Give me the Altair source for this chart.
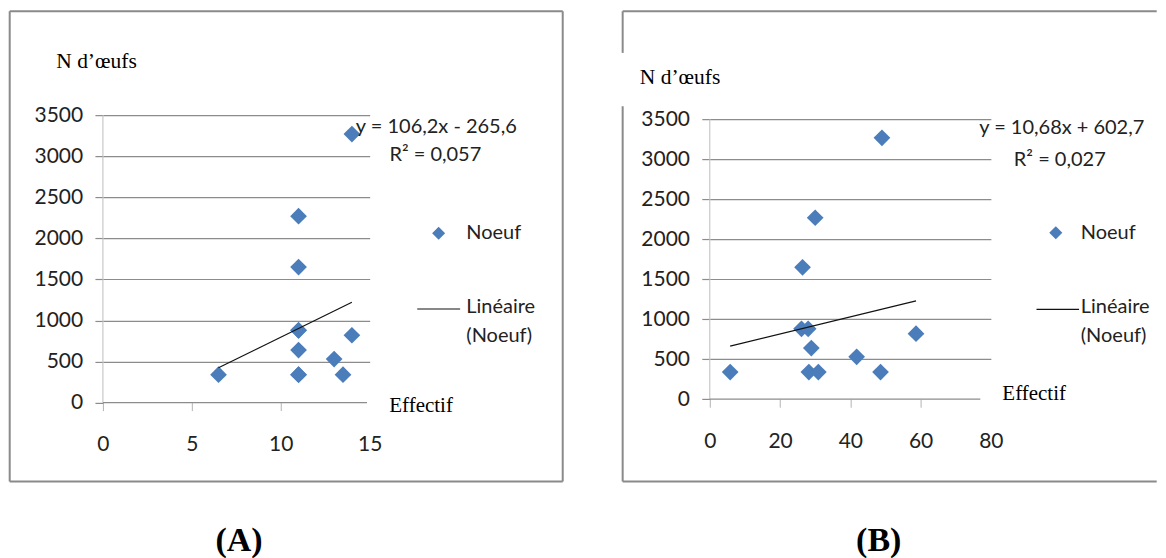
import altair as alt
import pandas as pd

# ---------------- data ----------------
# Panel A : N d'oeufs vs Effectif (0-15)
a_effectif = [6.5, 11, 11, 11, 11, 11, 11, 13, 13.5, 14, 14, 11]
a_noeuf = [340, 2270, 1650, 880, 880, 640, 340, 530, 340, 820, 3270, 340]
a_trend_x = [6.5, 14]
a_trend_y = [425, 1221]
a_equation = "y = 106,2x - 265,6"
a_r2 = "R² = 0,057"

# Panel B : N d'oeufs vs Effectif (0-80)
b_effectif = [5.8, 26.1, 26.4, 28, 28.2, 28.9, 30, 30.9, 41.8, 48.6, 49, 58.7]
b_noeuf = [340, 880, 1650, 880, 340, 640, 2270, 340, 530, 340, 3270, 820]
b_trend_x = [5.8, 58.7]
b_trend_y = [665, 1230]
b_equation = "y = 10,68x + 602,7"
b_r2 = "R² = 0,027"

y_ticks = [0, 500, 1000, 1500, 2000, 2500, 3000, 3500]
a_x_ticks = [0, 5, 10, 15]
b_x_ticks = [0, 20, 40, 60, 80]

y_title = "N d’œufs"
x_title = "Effectif"
legend_point = "Noeuf"
legend_line_1 = "Linéaire"
legend_line_2 = "(Noeuf)"

SANS = "Lato"
SERIF = "Liberation Serif"
BLUE = "#4a7dba"
GRID = "#8c8c8c"
BORDER = "#8a8a8a"
TXT = "#222222"

one = pd.DataFrame({"k": [0]})


def text(t, x, y, size, font, align="left", baseline="middle", weight="normal", color=TXT):
    return alt.Chart(one).mark_text(
        text=t, font=font, fontSize=size, align=align, baseline=baseline,
        fontWeight=weight, color=color
    ).encode(x=alt.value(x), y=alt.value(y))


def hline(x1, x2, y, color=BORDER, width=2):
    return alt.Chart(one).mark_rule(color=color, strokeWidth=width).encode(
        x=alt.value(x1), x2=alt.value(x2), y=alt.value(y))


def vline(x, y1, y2, color=BORDER, width=2):
    return alt.Chart(one).mark_rule(color=color, strokeWidth=width).encode(
        x=alt.value(x), y=alt.value(y1), y2=alt.value(y2))


def panel(xs, ys, tx, ty, xticks, xmax, ymax, w, h, xaxis_end, deco):
    xscale = alt.Scale(domain=[0, xmax], nice=False, zero=False)
    yscale = alt.Scale(domain=[0, ymax], nice=False, zero=False)
    xaxis = alt.Axis(
        values=xticks, grid=False, domain=False, tickSize=8, tickWidth=1,
        tickColor={"condition": {"test": f"datum.value == {xticks[-1]}", "value": "transparent"},
                   "value": "#b3b3b3"},
        labelFont=SANS, labelFontSize=21, labelColor=TXT, labelPadding=23,
        labelFlush=False, labelOverlap=False, title=None, format="d")
    yaxis = alt.Axis(
        values=y_ticks, grid=True,
        gridColor={"condition": {"test": "datum.value == 0", "value": "transparent"},
                   "value": GRID},
        gridWidth=1.2, domain=False, tickSize=8, tickColor=GRID, tickWidth=1.2,
        labelFont=SANS, labelFontSize=21, labelColor=TXT, labelPadding=12.3,
        labelOverlap=False, title=None, format="d")

    pts = pd.DataFrame({"x": xs, "y": ys})
    tr = pd.DataFrame({"x": tx, "y": ty})
    yline = pd.DataFrame({"x": [0], "y": [0], "y2": [y_ticks[-1]]})
    xline = pd.DataFrame({"x": [0], "x2": [xaxis_end], "y": [0]})

    X = lambda: alt.X("x:Q", scale=xscale, axis=xaxis)
    Y = lambda: alt.Y("y:Q", scale=yscale, axis=yaxis)

    y_axis_line = alt.Chart(yline).mark_rule(color="#bdbdbd", strokeWidth=1).encode(
        x=X(), y=Y(), y2="y2:Q")
    x_axis_line = alt.Chart(xline).mark_rule(color=GRID, strokeWidth=1.2).encode(
        x=X(), x2="x2:Q", y=Y())
    points = alt.Chart(pts).mark_point(
        shape="diamond", filled=True, size=280, color=BLUE, opacity=1).encode(x=X(), y=Y())
    trend = alt.Chart(tr).mark_line(color="#111111", strokeWidth=1.2).encode(x=X(), y=Y())

    return alt.layer(y_axis_line, x_axis_line, points, trend, *deco).properties(
        width=w, height=h)


# ---- panel A decorations (pixel offsets from its plot area) ----
deco_a = [
    vline(-93.3, -104, 366.7), vline(460.2, -104, 366.7),
    hline(-93.3, 460.2, -104), hline(-93.3, 460.2, 366.7),
    text(y_title, -46.7, -47.3, 21.5, SERIF, baseline="alphabetic", color="#000"),
    text(x_title, 286.6, 297, 21, SERIF, baseline="alphabetic", color="#000"),
    text(a_equation, 333.7, 11.7, 20, SANS, align="center"),
    text(a_r2, 332.7, 40, 20, SANS, align="center"),
    alt.Chart(one).mark_point(shape="diamond", filled=True, size=170, color=BLUE, opacity=1).encode(
        x=alt.value(336), y=alt.value(118.3)),
    text(legend_point, 363.7, 118.3, 20, SANS),
    hline(314.6, 357.5, 194, color="#111111", width=1.2),
    text(legend_line_1, 363.7, 192.3, 20, SANS),
    text(legend_line_2, 363.7, 221, 20, SANS),
    text("(A)", 136.2, 436, 34, SERIF, align="center", baseline="alphabetic", weight="bold", color="#000"),
]

# ---- panel B decorations ----
deco_b = [
    vline(-87.2, -104, -62.3), vline(-87.2, -9, 366.7),
    hline(-87.2, 447.3, -104), hline(-87.2, 447.3, 366.7),
    text(y_title, -70, -31, 21.5, SERIF, baseline="alphabetic", color="#000"),
    text(x_title, 292.8, 285, 21, SERIF, baseline="alphabetic", color="#000"),
    text(b_equation, 352.3, 13.3, 20, SANS, align="center"),
    text(b_r2, 350.3, 45, 20, SANS, align="center"),
    alt.Chart(one).mark_point(shape="diamond", filled=True, size=170, color=BLUE, opacity=1).encode(
        x=alt.value(346.3), y=alt.value(117.7)),
    text(legend_point, 371.3, 117.7, 20, SANS),
    hline(327, 369.6, 194.3, color="#111111", width=1.2),
    text(legend_line_1, 371.3, 192.3, 20, SANS),
    text(legend_line_2, 371.3, 221, 20, SANS),
    text("(B)", 169.1, 436, 34, SERIF, align="center", baseline="alphabetic", weight="bold", color="#000"),
]

pA = panel(a_effectif, a_noeuf, a_trend_x, a_trend_y, a_x_ticks, 15, 3500,
           267, 287.7, 14.85, deco_a)
pB = panel(b_effectif, b_noeuf, b_trend_x, b_trend_y, b_x_ticks, 80, 3553.75,
           281.3, 284.3, 77, deco_b)

chart = alt.hconcat(pA, pB, spacing=340.4, bounds="flush").properties(
    padding={"left": 0, "top": 2, "right": 0, "bottom": 0}
).configure_view(stroke=None).resolve_scale(x="independent", y="independent")

chart.save("out.html", embed_options={"renderer": "svg", "actions": False})
